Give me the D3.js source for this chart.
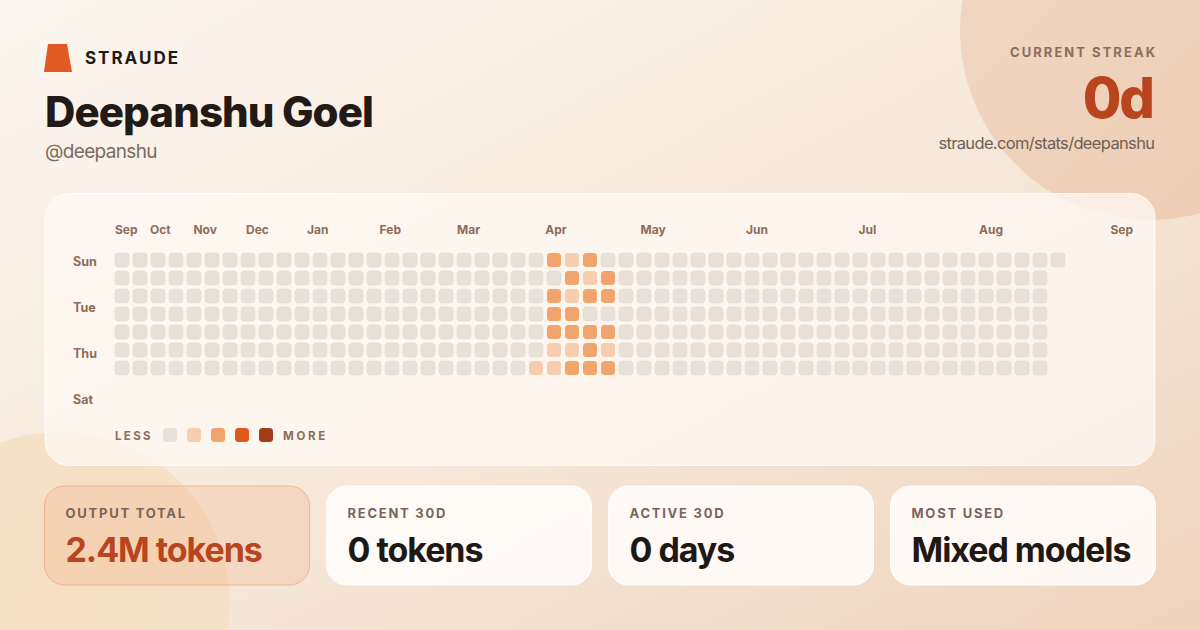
<!DOCTYPE html>
<html><head><meta charset="utf-8">
<script src="https://cdn.jsdelivr.net/npm/d3@7"></script>
<style>html,body{margin:0;padding:0;background:#fbf4ec;}svg{display:block;font-family:Inter,"Noto Sans",sans-serif;}</style>
</head><body>
<script>
// ---- data ----
const dayNames = ["Sun","Mon","Tue","Wed","Thu","Fri","Sat"];
const dayLabelsShown = ["Sun","Tue","Thu","Sat"];
const monthLabels = ["Sep","Oct","Nov","Dec","Jan","Feb","Mar","Apr","May","Jun","Jul","Aug","Sep"];
const monthWeekPos = [0, 1.94, 4.36, 7.28, 10.67, 14.7, 19, 23.9, 29.2, 35.05, 41.3, 48, 55.3];
const weekCount = 53;            // weeks in the grid
const lastWeekDays = 1;          // days present in the final week
// activity levels (0-4) per day (Sun..Sat) for the weeks with activity
const activeWeekIdx = [23, 24, 25, 26, 27];
const week23 = [0,0,0,0,0,0,1];
const week24 = [2,0,2,2,2,1,1];
const week25 = [1,2,1,2,2,1,2];
const week26 = [2,1,2,0,2,2,2];
const week27 = [0,2,2,0,2,1,2];
const activeWeekLevels = [week23, week24, week25, week26, week27];
const levelColors = ["#e8e1d8","#f7cdb0","#f1a56d","#e1581f","#a43c1c"];
const statLabels = ["OUTPUT TOTAL","RECENT 30D","ACTIVE 30D","MOST USED"];
const statValues = ["2.4M tokens","0 tokens","0 days","Mixed models"];
const userName = "Deepanshu Goel", handle = "@deepanshu", brand = "STRAUDE";
const streakLabel = "CURRENT STREAK", streakValue = "0d", profileUrl = "straude.com/stats/deepanshu";

// ---- build cells ----
const cells = [];
for (let w = 0; w < weekCount; w++) {
  const nd = w === weekCount - 1 ? lastWeekDays : 7;
  const ai = activeWeekIdx.indexOf(w);
  for (let d = 0; d < nd; d++) cells.push({week: w, day: dayNames[d], level: ai >= 0 ? activeWeekLevels[ai][d] : 0});
}

const W = 1200, H = 630;
const svg = d3.select("body").append("svg").attr("width", W).attr("height", H);
const defs = svg.append("defs");
const bg = defs.append("linearGradient").attr("id","bg").attr("x1","0").attr("y1","0").attr("x2","1").attr("y2","1");
bg.append("stop").attr("offset","0").attr("stop-color","#fcf6f0");
bg.append("stop").attr("offset","0.55").attr("stop-color","#f6e7d8");
bg.append("stop").attr("offset","1").attr("stop-color","#efd3bd");
const c1 = defs.append("linearGradient").attr("id","c1").attr("x1","0").attr("y1","0").attr("x2","1").attr("y2","1");
c1.append("stop").attr("offset","0").attr("stop-color","#f1d9c6");
c1.append("stop").attr("offset","1").attr("stop-color","#edcbb1");
const c2 = defs.append("radialGradient").attr("id","c2");
c2.append("stop").attr("offset","0").attr("stop-color","#f6dfc3");
c2.append("stop").attr("offset","1").attr("stop-color","#f5e0c8");

svg.append("rect").attr("width",W).attr("height",H).attr("fill","url(#bg)");
svg.append("circle").attr("cx",1150).attr("cy",30).attr("r",190).attr("fill","url(#c1)");
svg.append("circle").attr("cx",60).attr("cy",602).attr("r",170).attr("fill","url(#c2)");

function fit(sel, target) {
  const n = sel.text().length;
  const w0 = sel.node().getComputedTextLength();
  sel.attr("letter-spacing", ((target - w0) / n).toFixed(2));
  return sel;
}

// ---- header ----
svg.append("polygon").attr("points","48,44 67,44 72,72 44,72").attr("fill","#e15a24");
fit(svg.append("text").attr("x",85).attr("y",63.7).attr("font-size",17).attr("font-weight",700).attr("fill","#211a16").text(brand), 95);
fit(svg.append("text").attr("x",45).attr("y",127).attr("font-size",42).attr("font-weight",800).attr("fill","#211a16").text(userName), 328);
fit(svg.append("text").attr("x",45).attr("y",158).attr("font-size",19).attr("fill","#7c6b61").text(handle), 112);

const rt = (y, size, weight, fill, txt, target) => {
  const t = svg.append("text").attr("x",1155).attr("y",y).attr("text-anchor","end").attr("font-size",size).attr("font-weight",weight).attr("fill",fill).text(txt);
  fit(t, target);
  t.attr("x", 1155 + (+t.attr("letter-spacing")));
  return t;
};
rt(57, 13, 700, "#8b6f5e", streakLabel, 147);
rt(117.5, 56, 800, "#b9451e", streakValue, 70);
rt(149.3, 16.5, 400, "#6f5f56", profileUrl, 216);

// ---- heatmap panel ----
svg.append("rect").attr("x",45).attr("y",193.5).attr("width",1110).attr("height",272).attr("rx",24)
  .attr("fill","#fffaf4").attr("fill-opacity",0.75).attr("stroke","#ffffff").attr("stroke-opacity",0.8);

const x = d3.scaleLinear().domain([0, weekCount - 1]).range([115, 1051]);
const y = d3.scaleBand().domain(dayNames).range([253, 375]).paddingInner(4/18);
const yLab = d3.scalePoint().domain(dayNames).range([266, 404]);
const cellSize = y.bandwidth();

svg.append("g").selectAll("rect").data(cells).join("rect")
  .attr("x", d => x(d.week)).attr("y", d => y(d.day))
  .attr("width", cellSize).attr("height", cellSize).attr("rx", 3.5)
  .attr("fill", d => levelColors[d.level])
  .attr("stroke", d => d.level === 0 ? "#e2d9cf" : "none").attr("stroke-width", 0.6);

svg.append("g").selectAll("text").data(monthLabels).join("text")
  .attr("x", (d,i) => x(monthWeekPos[i])).attr("y", 234.3)
  .attr("font-size", 12).attr("font-weight", 700).attr("fill", "#8d6c59").text(d => d);

svg.append("g").selectAll("text").data(dayLabelsShown).join("text")
  .attr("x", 73).attr("y", d => yLab(d))
  .attr("font-size", 12.5).attr("font-weight", 700).attr("fill", "#8d6c59").text(d => d);

// legend
const lg = svg.append("g");
fit(lg.append("text").attr("x",115).attr("y",439.5).attr("font-size",11.5).attr("font-weight",700).attr("fill","#8b6f5e").text("LESS"), 38);
const lx = d3.scaleLinear().domain([0,1]).range([163, 187]);
lg.selectAll("rect").data(levelColors).join("rect")
  .attr("x",(d,i)=>lx(i)).attr("y",428).attr("width",14).attr("height",14).attr("rx",3.5).attr("fill",d=>d);
fit(lg.append("text").attr("x",283).attr("y",439.5).attr("font-size",11.5).attr("font-weight",700).attr("fill","#8b6f5e").text("MORE"), 45);

// ---- stat cards ----
const cx = d3.scaleLinear().domain([0,1]).range([44.5, 326.5]);
const cards = svg.append("g").selectAll("g").data(statLabels).join("g")
  .attr("transform",(d,i)=>`translate(${cx(i)},486)`);
cards.append("rect").attr("width",265).attr("height",99).attr("rx",20)
  .attr("fill",(d,i)=> i===0 ? "#ee9a68" : "#fffcf9")
  .attr("fill-opacity",(d,i)=> i===0 ? 0.2 : 0.9)
  .attr("stroke",(d,i)=> i===0 ? "#eeb493" : "#ffffff")
  .attr("stroke-width",1);
cards.append("text").attr("x",21).attr("y",32.3).attr("font-size",13).attr("font-weight",700)
  .attr("fill","#7a645a").attr("letter-spacing",1.75).text(d=>d);
cards.append("text").attr("x",21).attr("y",76).attr("font-size",34).attr("font-weight",700)
  .attr("letter-spacing",-1.05)
  .attr("fill",(d,i)=> i===0 ? "#b9451e" : "#1f1915").text((d,i)=>statValues[i]);
</script>
</body></html>
